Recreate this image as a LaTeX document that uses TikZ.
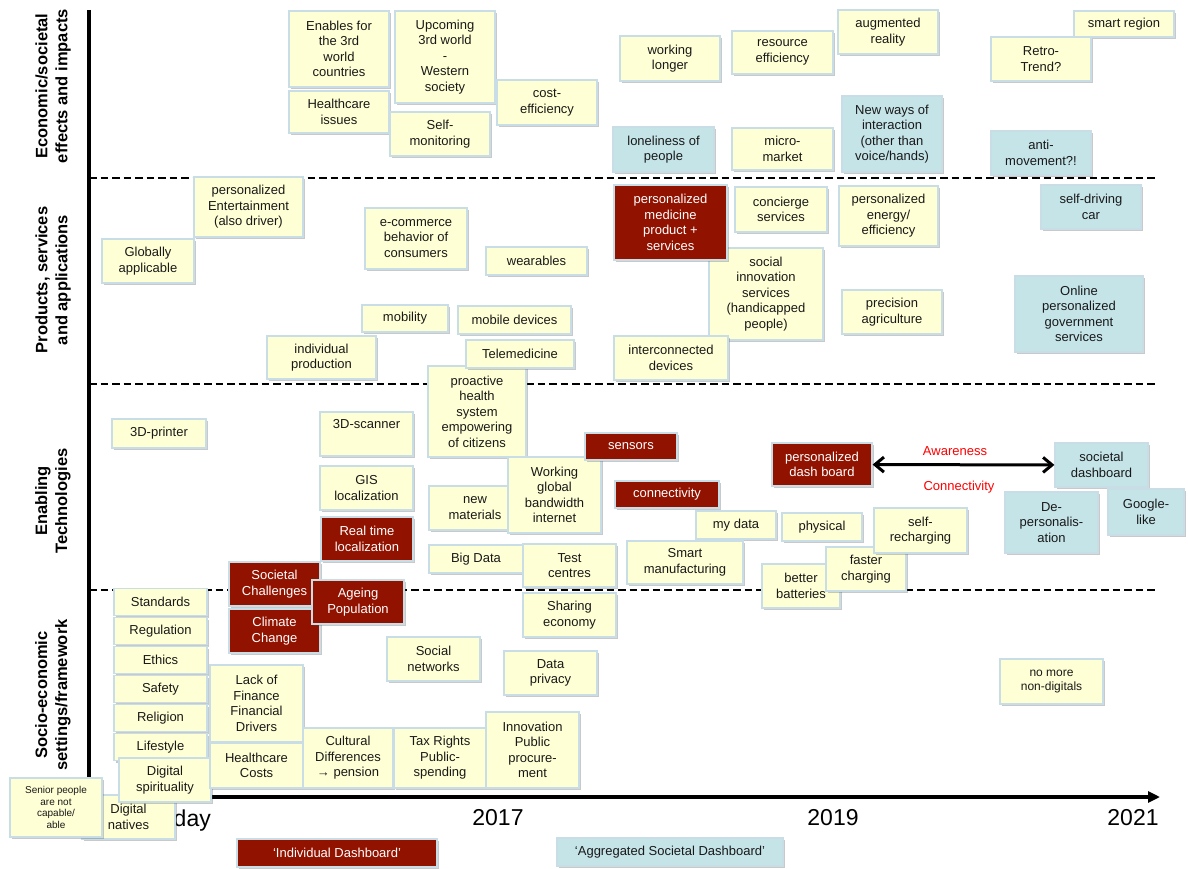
\documentclass[tikz,border=0pt]{standalone}
\usepackage{fontspec}
\setmainfont{Liberation Sans}
\usetikzlibrary{positioning,shadows,arrows.meta,calc}
\definecolor{note-yellow}{RGB}{255,255,213}
\definecolor{note-border}{RGB}{200,221,230}
\definecolor{dash-red}{RGB}{146,18,0}
\definecolor{dash-blue}{RGB}{197,228,232}
\definecolor{note-text}{RGB}{25,25,25}

\begin{document}
\begin{tikzpicture}[x=1pt, y=-1pt,
    note/.style = {shape=rectangle, draw=note-border, line width=1.2pt,
      fill=note-yellow, text=note-text, align=center, inner sep=2pt,
      font=\fontsize{13}{15.5}\selectfont,
      drop shadow={shadow xshift=1.5pt, shadow yshift=-2pt, opacity=.3, fill=black!70}},
    rnote/.style = {note, fill=dash-red, text=white},
    bnote/.style = {note, fill=dash-blue},
    small/.style = {font=\fontsize{10}{11.5}\selectfont},
    box/.style 2 args = {minimum width=#1pt, minimum height=#2pt},
    rowlabel/.style = {rotate=90, align=center, font=\bfseries\fontsize{16.5}{20}\selectfont},
    year/.style = {font=\fontsize{23}{26}\selectfont, inner sep=0pt},
    sep/.style = {dash pattern=on 7.5pt off 4pt, line width=1.8pt},
    axis/.style = {line width=3.5pt},
    post/.style = {<->, >={Straight Barb[length=9pt, width=15pt]}, line width=3pt},
    tag/.style = {text=red, font=\fontsize{13}{15.5}\selectfont}]

  \useasboundingbox (0,0) rectangle (1188,869);

  \coordinate (ytop) at (89,10);
  \coordinate (origin) at (89,797);
  \coordinate (xend) at (1160,797);
  \foreach \y in {178,384,590}
    \draw[sep] (89,\y) -- (1157,\y);
  \draw[axis] (ytop) -- (origin);
  \draw[axis, -{Triangle[length=12pt, width=11pt]}] (origin) -- (xend);

  \node [rowlabel] (economic) at (53,86) {Economic/societal\\effects and impacts};
  \node [rowlabel] (products) at (53,280) {Products, services\\and applications};
  \node [rowlabel] (enabling) at (53,501) {Enabling\\Technologies};
  \node [rowlabel] (socio) at (53,695) {Socio-economic\\settings/framework};

  \node [year, anchor=base east] (today) at (211,826) {day};
  \node [year, anchor=base] (y2017) at (498,825) {2017};
  \node [year, anchor=base] (y2019) at (833,825) {2019};
  \node [year, anchor=base] (y2021) at (1133,825) {2021};

  \node [note, box={100}{76}] (enables) at (339,49) {Enables for\\the 3rd\\world\\countries};
  \node [note, box={100}{42}] (hcissues) at (339,112) {Healthcare\\issues};
  \node [note, box={100}{92}] (upcoming) at (445,57) {Upcoming\\3rd world\\-\\Western\\society};
  \node [note, box={100}{44}] (selfmon) at (440,134) {Self-\\monitoring};
  \node [note, box={100}{45}] (costeff) at (547,102.5) {cost-\\efficiency};
  \node [note, box={100}{45}] (working) at (670,58.5) {working\\longer};
  \node [bnote, box={101}{45}] (lonely) at (663.5,149.5) {loneliness of\\people};
  \node [note, box={101}{43}] (resource) at (782.5,52.5) {resource\\efficiency};
  \node [note, box={101}{42}] (micro) at (782.5,149) {micro-\\market};
  \node [note, box={100}{44}] (augmented) at (888,32) {augmented\\reality};
  \node [bnote, box={100}{76}] (newways) at (892,134) {New ways of\\interaction\\(other than\\voice/hands)};
  \node [note, box={100}{26}] (smartreg) at (1124,24) {smart region};
  \node [note, box={100}{44}] (retro) at (1041,59) {Retro-\\Trend?};
  \node [bnote, box={100}{44}] (anti) at (1041,153) {anti-\\movement?!};

  \node [note, box={109}{60}] (entertain) at (248.5,207) {personalized\\Entertainment\\(also driver)};
  \node [note, box={92}{44}] (global) at (148,261) {Globally\\applicable};
  \node [note, box={102}{61}] (ecommerce) at (416,238.5) {e-commerce\\behavior of\\consumers};
  \node [note, box={101}{28}] (wearables) at (536.5,261) {wearables};
  \node [note, box={86}{27}] (mobility) at (405,318.5) {mobility};
  \node [note, box={109}{43}] (indprod) at (321.5,357.5) {individual\\production};
  \node [note, box={113}{28}] (mobdev) at (514.5,320) {mobile devices};
  \node [note, box={98}{91}] (proactive) at (477,411.5) {proactive\\health\\system\\empowering\\of citizens};
  \node [note, box={108}{28}] (telemed) at (520,354) {Telemedicine};
  \node [note, box={114}{92}] (socinno) at (766,294) {social\\innovation\\services\\(handicapped\\people)};
  \node [rnote, box={113}{75}] (medicine) at (670.5,222.5) {personalized\\medicine\\product +\\services};
  \node [note, box={92}{45}] (concierge) at (781,209.5) {concierge\\services};
  \node [note, box={114}{44}] (interdev) at (671,358) {interconnected\\devices};
  \node [note, box={99}{60}] (energy) at (888.5,216) {personalized\\energy/\\efficiency};
  \node [note, box={100}{44}] (precision) at (892,312) {precision\\agriculture};
  \node [bnote, box={100}{44}] (selfdrive) at (1091,207) {self-driving\\car};
  \node [bnote, box={128}{76}] (online) at (1079,314) {Online\\personalized\\government\\services};

  \node [note, box={94}{29}] (printer) at (159,433.5) {3D-printer};
  \node [note, box={93}{44}] (scanner) at (366.5,434) {3D-scanner\\ \strut};
  \node [note, box={93}{44}] (gis) at (366.5,488) {GIS\\localization};
  \node [rnote, box={92}{44}] (realtime) at (367,539) {Real time\\localization};
  \node [note, box={92}{44}] (newmat) at (475,508) {new\\materials};
  \node [note, box={93}{76}] (wgbi) at (554.5,495) {Working\\global\\bandwidth\\internet};
  \node [rnote, box={92}{27}] (sensors) at (631,446.5) {sensors};
  \node [rnote, box={104}{27}] (connect) at (667,494.5) {connectivity};
  \node [note, box={80}{28}] (mydata) at (736,525) {my data};
  \node [note, box={94}{28}] (bigdata) at (476,559) {Big Data};
  \node [note, box={93}{43}] (testc) at (569.5,565.5) {Test\\centres};
  \node [note, box={116}{43}] (smartman) at (685,562.5) {Smart\\manufacturing};
  \node [note, box={80}{28}] (physical) at (822,527) {physical};
  \node [note, box={78}{44}] (batteries) at (801,586) {better\\batteries};
  \node [note, box={80}{44}] (faster) at (866,569) {faster\\charging};
  \node [note, box={93}{45}] (selfrech) at (920.5,530.5) {self-\\recharging};
  \node [rnote, box={100}{43}] (pdash) at (822,464.5) {personalized\\dash board};
  \node [bnote, box={93}{44}] (sdash) at (1101.5,465) {societal\\dashboard};
  \node [bnote, box={93}{61}] (depers) at (1051.5,522.5) {De-\\personalis-\\ation};
  \node [bnote, box={76}{46}] (google) at (1146,512) {Google-\\like};

  \node [rnote, box={91}{44}] (socchal) at (274.5,584) {Societal\\Challenges};
  \node [rnote, box={91}{44}] (climate) at (274.5,631) {Climate\\Change};
  \node [rnote, box={92}{44}] (ageing) at (358,602) {Ageing\\Population};
  \node [note, box={93}{44}] (sharing) at (569.5,615) {Sharing\\economy};
  \node [note, box={93}{44}] (socnet) at (433.5,659) {Social\\networks};
  \node [note, box={93}{44}] (privacy) at (550.5,673) {Data\\privacy};
  \node [note, box={93}{44}] (natives) at (128.5,817) {Digital\\natives};
  \node [note, box={93}{27}] (standards) at (160.5,602) {Standards};
  \node [note, box={93}{27}] (regulation) [below=0.8pt of standards] {Regulation};
  \node [note, box={93}{27}] (ethics) [below=0.8pt of regulation] {Ethics};
  \node [note, box={93}{27}] (safety) [below=0.8pt of ethics] {Safety};
  \node [note, box={93}{27}] (religion) [below=0.8pt of safety] {Religion};
  \node [note, box={93}{27}] (lifestyle) [below=0.8pt of religion] {Lifestyle};
  \node [note, box={92}{44}] (spirit) at (165,780) {Digital\\spirituality};
  \node [note, small, box={92}{59}] (senior) at (56,807.5) {Senior people\\are not\\capable/\\able};
  \node [note, box={93}{77}] (lackfin) at (256.5,703.5) {Lack of\\Finance\\Financial\\Drivers};
  \node [note, box={93}{45}] (hccosts) at (256.5,765.5) {Healthcare\\Costs};
  \node [note, box={90}{60}] (cultural) at (348,758) {Cultural\\Differences\\→ pension};
  \node [note, box={92}{60}] (taxrights) at (440,758) {Tax Rights\\Public-\\spending};
  \node [note, box={93}{76}] (innovation) at (532.5,750) {Innovation\\Public\\procure-\\ment};
  \node [note, box={103}{45}, font=\fontsize{12}{14.5}\selectfont] (nomore) at (1051.5,681.5) {no more\\non-digitals};

  \node [rnote, box={200}{28}] (indleg) at (337,853) {‘Individual Dashboard’};
  \node [bnote, box={226}{28}] (aggleg) at (670,852) {‘Aggregated Societal Dashboard’};

  \draw[post] (pdash) -- (sdash);
  \node [tag] (aware) at (955,451) {Awareness};
  \node [tag] (connlbl) at (959,487) {Connectivity};
\end{tikzpicture}
\end{document}
